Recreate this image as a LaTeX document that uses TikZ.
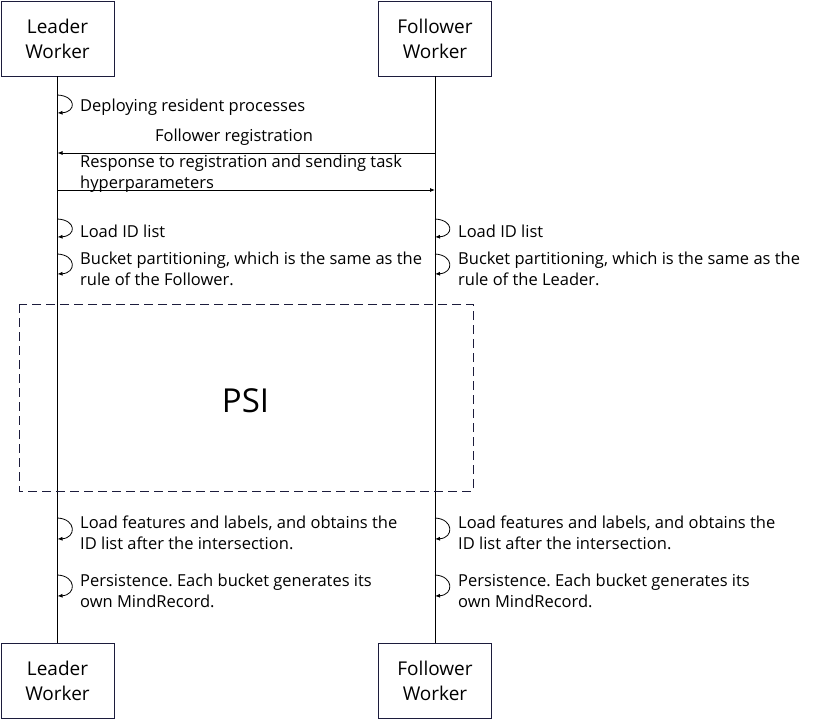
\documentclass[tikz,border=0pt]{standalone}
\usepackage{fontspec}
\setmainfont{Open Sans}
\usetikzlibrary{arrows.meta}
\definecolor{boxline}{HTML}{1C1C3C}
\frenchspacing

\begin{document}
\begin{tikzpicture}[x=1pt, y=-1pt,
    worker/.style={draw=boxline, line width=0.9pt, minimum width=113pt, minimum height=75pt,
      align=center, font=\fontsize{19}{25}\selectfont},
    msgtext/.style={anchor=west, align=left, inner sep=0pt, font=\fontsize{16.5}{21}\selectfont},
    msgline/.style={line width=0.8pt, -{Latex[length=5pt, width=4pt]}},
    selfloop/.style={line width=0.8pt, -{Latex[length=5pt, width=4pt]}}]
    \useasboundingbox (0,0) rectangle (814,720);

    \node[worker] (LT) at (57.5,38.5) {Leader\\Worker};
    \node[worker] (FT) at (435,38.5) {Follower\\Worker};
    \node[worker] (LB) at (57.5,681) {Leader\\Worker};
    \node[worker] (FB) at (435,681) {Follower\\Worker};

    \draw[line width=0.8pt] (LT) -- (LB);
    \draw[line width=0.8pt] (FT) -- (FB);

    % lifeline points
    \coordinate (L1a) at (57.5,95);  \coordinate (L1b) at (57.5,113);
    \coordinate (F2)  at (435,153);  \coordinate (L2)  at (57.5,153);
    \coordinate (L3)  at (57.5,190); \coordinate (F3)  at (435,190);
    \coordinate (L4a) at (57.5,219); \coordinate (L4b) at (57.5,237);
    \coordinate (F4a) at (435,219);  \coordinate (F4b) at (435,237);
    \coordinate (L5a) at (57.5,254); \coordinate (L5b) at (57.5,274);
    \coordinate (F5a) at (435,254);  \coordinate (F5b) at (435,274);
    \coordinate (L6a) at (57.5,518); \coordinate (L6b) at (57.5,539);
    \coordinate (F6a) at (435,518);  \coordinate (F6b) at (435,539);
    \coordinate (L7a) at (57.5,575); \coordinate (L7b) at (57.5,596);
    \coordinate (F7a) at (435,575);  \coordinate (F7b) at (435,596);

    % self calls
    \foreach \p in {L1,L4,F4,L5,F5,L6,F6,L7,F7}
      \draw[selfloop] (\p a) .. controls +(19,1) and +(19,-1) .. (\p b);

    % messages
    \draw[msgline] (F2) -- (L2);
    \draw[msgline] (L3) -- (F3);

    \node[msgtext] (t1) at (80,107) {Deploying resident processes};
    \node[inner sep=0pt, font=\fontsize{16.5}{21}\selectfont] (t2) at (234,137) {Follower registration};
    \node[msgtext] (t3) at (80,173.5) {Response to registration and sending task\\hyperparameters};
    \node[msgtext] (t4) at (80,231) {Load ID list};
    \node[msgtext] (t5) at (458,231) {Load ID list};
    \node[msgtext] (t6) at (80,268.5) {Bucket partitioning, which is the same as the\\rule of the Follower.};
    \node[msgtext] (t7) at (458,268.5) {Bucket partitioning, which is the same as the\\rule of the Leader.};
    \node[msgtext] (t8) at (80,533) {Load features and labels, and obtains the\\ID list after the intersection.};
    \node[msgtext] (t9) at (458,533) {Load features and labels, and obtains the\\ID list after the intersection.};
    \node[msgtext] (t10) at (80,590.5) {Persistence. Each bucket generates its\\own MindRecord.};
    \node[msgtext] (t11) at (458,590.5) {Persistence. Each bucket generates its\\own MindRecord.};

    % PSI block
    \draw[boxline, line width=0.9pt, dash pattern=on 9pt off 5pt] (19,304) rectangle (473,491);
    \node[font=\fontsize{33}{38}\selectfont] (psi) at (245.5,401) {PSI};
\end{tikzpicture}
\end{document}
